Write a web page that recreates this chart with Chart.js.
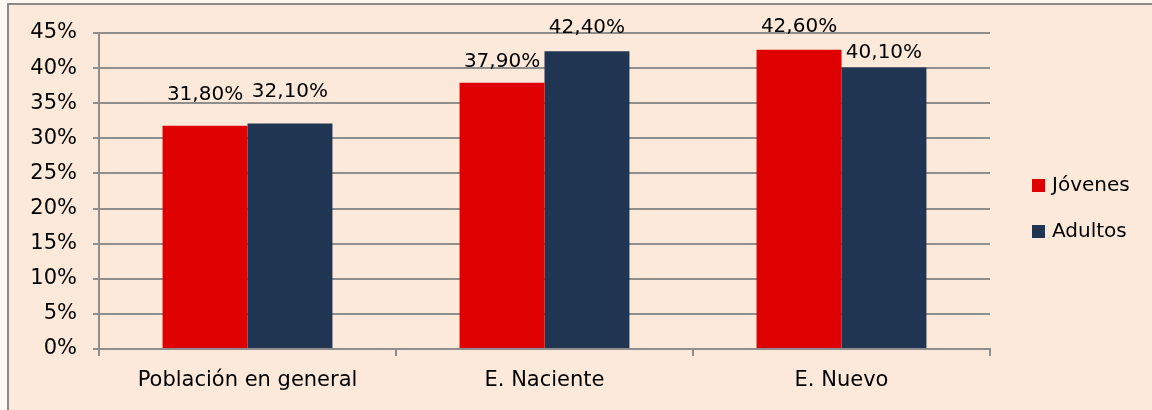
<!DOCTYPE html>
<html>
<head>
<meta charset="utf-8">
<script src="https://cdn.jsdelivr.net/npm/chart.js@4/dist/chart.umd.min.js"></script>
<style>
  html, body { margin: 0; padding: 0; width: 1152px; height: 410px; overflow: hidden; background: #FEF8F2; }
  #frame { position: absolute; left: 7px; top: 3px; width: 1143px; height: 405px;
           background: #FDE9D9; border-left: 2px solid #8a8a8a; border-top: 2px solid #8a8a8a; }
  #wrap { position: absolute; left: 0; top: 0; width: 1152px; height: 410px; }
  #legend { position: absolute; left: 1032px; top: 172px; font: 20px 'DejaVu Sans', sans-serif; color: #000; }
  #legend div { height: 46px; display: flex; align-items: flex-start; }
  #legend span.sw { width: 13px; height: 13px; display: inline-block; margin: 7px 7px 0 0; }
</style>
</head>
<body>
<div id="frame"></div>
<div id="wrap"><canvas id="c" width="1152" height="410"></canvas></div>
<div id="legend"></div>
<script>
// values (percent)
const categories = ['Población en general', 'E. Naciente', 'E. Nuevo'];
const seriesNames = ['Jóvenes', 'Adultos'];
const jovenes = [31.8, 37.9, 42.6];
const adultos = [32.1, 42.4, 40.1];
const yTicks = [0, 5, 10, 15, 20, 25, 30, 35, 40, 45];

const colors = ['#DF0000', '#1F3552'];
const FONT = "'DejaVu Sans', sans-serif";
const GRID = '#8e8e8e';
// how far each value label sits above its bar (Excel moved some by hand)
const labelLift = [[26, 16, 18], [27, 18, 9]];

const fmtPct = (v) => v.toFixed(2).replace('.', ',') + '%';

const valueLabels = {
  id: 'valueLabels',
  afterDatasetsDraw(chart) {
    const ctx = chart.ctx;
    ctx.save();
    ctx.font = '20px ' + FONT;
    ctx.fillStyle = '#000';
    ctx.textAlign = 'center';
    ctx.textBaseline = 'alphabetic';
    chart.data.datasets.forEach((ds, di) => {
      chart.getDatasetMeta(di).data.forEach((bar, i) => {
        ctx.fillText(fmtPct(ds.data[i]), bar.x, bar.y - labelLift[di][i]);
      });
    });
    ctx.restore();
  },
};

const chart = new Chart(document.getElementById('c'), {
  type: 'bar',
  data: {
    labels: categories,
    datasets: [
      { label: seriesNames[0], data: jovenes, backgroundColor: colors[0] },
      { label: seriesNames[1], data: adultos, backgroundColor: colors[1] },
    ],
  },
  options: {
    responsive: false, animation: false, devicePixelRatio: 1,
    layout: { padding: { left: 0, right: 162, top: 33, bottom: 0 } },
    datasets: { bar: { barPercentage: 1, categoryPercentage: 0.572 } },
    plugins: { legend: { display: false }, tooltip: { enabled: false } },
    scales: {
      x: {
        grid: { offset: true, drawOnChartArea: false, drawTicks: true, tickLength: 7, color: GRID, lineWidth: 2 },
        border: { color: GRID, width: 2 },
        ticks: { color: '#000', font: { family: FONT, size: 21 }, padding: 12, maxRotation: 0 },
        afterFit: (s) => { s.height = 61; },
      },
      y: {
        min: yTicks[0], max: yTicks[yTicks.length - 1],
        afterBuildTicks: (s) => { s.ticks = yTicks.map((v) => ({ value: v })); },
        grid: { color: GRID, lineWidth: 2, tickLength: 6 },
        border: { color: GRID, width: 2 },
        ticks: { color: '#000', font: { family: FONT, size: 21 }, padding: 16, callback: (v) => v + '%' },
        afterFit: (s) => { s.width = 99; },
      },
    },
  },
  plugins: [valueLabels],
});

// legend on the right, built from the same series
const lg = document.getElementById('legend');
chart.data.datasets.forEach((ds) => {
  const row = document.createElement('div');
  const sw = document.createElement('span');
  sw.className = 'sw';
  sw.style.background = ds.backgroundColor;
  row.appendChild(sw);
  row.appendChild(document.createTextNode(ds.label));
  lg.appendChild(row);
});
</script>
</body>
</html>
